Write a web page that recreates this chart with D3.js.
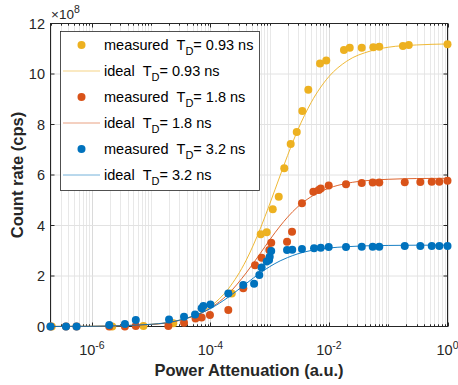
<!DOCTYPE html>
<html><head><meta charset="utf-8">
<script src="https://cdn.jsdelivr.net/npm/d3@7"></script>
<style>body{margin:0;background:#fff}svg{display:block;font-family:"Liberation Sans",Arial,sans-serif}</style>
</head><body><svg id="c" width="458" height="385"></svg>
<script>
// ---- data ----
const seriesNames = ["0.93", "1.8", "3.2"];
const seriesColors = ["#EDB120", "#D95319", "#0072BD"];
const yTicks = [0, 2, 4, 6, 8, 10, 12];
const xTickExps = [-6, -4, -2, 0];

const meas093X = [2.1e-7, 2.2e-6, 7.4e-6, 2.36e-5, 2.29e-4, 7.05e-4, 8.9e-4, 1.125e-3, 1.42e-3, 1.76e-3, 2.26e-3, 2.86e-3, 3.55e-3, 4.48e-3, 7.06e-3, 9.0e-3, 1.79e-2, 2.24e-2, 3.57e-2, 5.6e-2, 7.06e-2, 0.177, 0.222, 1.0];
const meas093Y = [0, 0, 0.02, 0.13, 1.31, 3.65, 3.73, 4.64, 5.14, 6.27, 7.23, 7.70, 8.53, 9.38, 10.42, 10.53, 10.95, 11.04, 11.04, 11.06, 11.08, 11.11, 11.15, 11.18];

const meas18X = [2e-7, 3.65e-7, 5.5e-7, 1.96e-6, 3.6e-6, 5.5e-6, 1.95e-5, 3.58e-5, 5.6e-5, 7.1e-5, 9.8e-5, 2e-4, 3.58e-4, 5.65e-4, 7.3e-4, 9.84e-4, 1.06e-3, 1.96e-3, 2.38e-3, 3.5e-3, 5.45e-3, 6.72e-3, 7.27e-3, 9.9e-3, 1.94e-2, 3.57e-2, 5.47e-2, 7.06e-2, 0.19, 0.348, 0.542, 0.728, 1.0];
const meas18Y = [0, 0, 0, 0, 0, 0.02, 0.02, 0.15, 0.32, 0.36, 0.46, 0.65, 1.51, 2.43, 2.72, 3.03, 3.32, 3.36, 3.75, 4.88, 5.34, 5.41, 5.47, 5.58, 5.63, 5.68, 5.70, 5.70, 5.71, 5.72, 5.73, 5.73, 5.77];

const meas32X = [2e-7, 3.65e-7, 5.5e-7, 1.96e-6, 3.6e-6, 5.5e-6, 2e-5, 3.58e-5, 5.5e-5, 7.1e-5, 7.6e-5, 1e-4, 2e-4, 3.58e-4, 5.45e-4, 6.67e-4, 7.3e-4, 8.9e-4, 9.76e-4, 1.0e-3, 1.06e-3, 1.96e-3, 2.4e-3, 3.5e-3, 5.6e-3, 7.27e-3, 9.9e-3, 1.94e-2, 3.57e-2, 5.47e-2, 7.06e-2, 0.19, 0.348, 0.542, 0.728, 1.0];
const meas32Y = [0, 0, 0, 0.06, 0.10, 0.26, 0.28, 0.39, 0.48, 0.72, 0.81, 0.87, 1.31, 1.64, 1.69, 2.04, 2.34, 2.57, 2.63, 2.76, 2.99, 3.03, 3.04, 3.07, 3.10, 3.12, 3.15, 3.15, 3.16, 3.16, 3.16, 3.19, 3.19, 3.19, 3.19, 3.19];

const idealX = [2e-7, 1e-6, 1e-5, 3e-5, 1e-4, 2e-4, 4e-4, 7e-4, 1e-3, 1.5e-3, 2e-3, 3e-3, 5e-3, 1e-2, 2e-2, 5e-2, 0.1, 0.3, 1];
const ideal093Y = [0.002, 0.009, 0.085, 0.25, 0.79, 1.49, 2.62, 3.90, 4.85, 5.98, 6.77, 7.80, 8.87, 9.90, 10.51, 10.91, 11.06, 11.15, 11.19];
const ideal18Y = [0.002, 0.008, 0.082, 0.24, 0.73, 1.29, 2.12, 2.91, 3.43, 3.98, 4.33, 4.75, 5.14, 5.48, 5.67, 5.79, 5.83, 5.86, 5.87];
const ideal32Y = [0.002, 0.009, 0.088, 0.25, 0.71, 1.16, 1.70, 2.13, 2.37, 2.60, 2.73, 2.88, 3.01, 3.11, 3.16, 3.20, 3.21, 3.22, 3.22];

// ---- build ----
const measured = [[meas093X, meas093Y], [meas18X, meas18Y], [meas32X, meas32Y]];
const ideals = [ideal093Y, ideal18Y, ideal32Y];
const svg = d3.select("#c");
const L = 50.5, R = 447.5, T = 23.5, B = 326.5;
const x = d3.scaleLog().domain([2e-7, 1]).range([L, R]);
const y = d3.scaleLinear().domain([0, 12]).range([B, T]);
const axisCol = "#262626";

// grid
const minor = [];
for (let e = -7; e <= 0; e++) for (let k = 1; k <= 9; k++) { const v = k * Math.pow(10, e); if (v >= 2e-7 && v <= 1) minor.push(v); }
const gGrid = svg.append("g");
gGrid.selectAll(".mg").data(minor).enter().append("line")
  .attr("x1", d => Math.round(x(d)) + 0.5).attr("x2", d => Math.round(x(d)) + 0.5).attr("y1", T).attr("y2", B)
  .attr("stroke", d => xTickExps.some(e => Math.abs(Math.log10(d) - e) < 1e-6) ? "#dadada" : "#e8e8e8").attr("stroke-width", 1);
gGrid.selectAll(".hg").data(yTicks).enter().append("line")
  .attr("x1", L).attr("x2", R).attr("y1", d => y(d)).attr("y2", d => y(d))
  .attr("stroke", "#e2e2e2");

// axes ticks (inward, box)
const gAx = svg.append("g").attr("stroke", axisCol).attr("stroke-width", 1);
const majorX = xTickExps.map(e => Math.pow(10, e));
minor.forEach(v => {
  const isMaj = majorX.some(m => Math.abs(Math.log10(v) - Math.log10(m)) < 1e-6);
  const len = isMaj ? 4 : 2.2;
  const px = Math.round(x(v)) + 0.5;
  gAx.append("line").attr("x1", px).attr("x2", px).attr("y1", B).attr("y2", B - len);
  gAx.append("line").attr("x1", px).attr("x2", px).attr("y1", T).attr("y2", T + len);
});
yTicks.forEach(v => {
  gAx.append("line").attr("x1", L).attr("x2", L + 4).attr("y1", y(v)).attr("y2", y(v));
  gAx.append("line").attr("x1", R).attr("x2", R - 4).attr("y1", y(v)).attr("y2", y(v));
});
gAx.append("rect").attr("x", L).attr("y", T).attr("width", R - L).attr("height", B - T).attr("fill", "none");

// tick labels
svg.append("g").selectAll("text").data(yTicks).enter().append("text")
  .attr("x", 45).attr("y", d => y(d) + 5).attr("text-anchor", "end")
  .attr("font-size", 14.5).attr("fill", axisCol).text(d => d);
const xl = svg.append("g");
xTickExps.forEach(e => {
  const t = xl.append("text").attr("x", x(Math.pow(10, e))).attr("y", 355).attr("text-anchor", "middle")
    .attr("font-size", 14.5).attr("fill", axisCol);
  t.append("tspan").text("10");
  t.append("tspan").attr("dy", -6).attr("font-size", 10.5).text(e === 0 ? "0" : "-" + Math.abs(e));
});
const ex = svg.append("text").attr("x", 51).attr("y", 19).attr("font-size", 13.5).attr("fill", axisCol);
ex.append("tspan").text("\u00D710");
ex.append("tspan").attr("dy", -6).attr("font-size", 10.5).text("8");

// axis titles
svg.append("text").attr("x", (L + R) / 2).attr("y", 376).attr("text-anchor", "middle")
  .attr("font-size", 16.5).attr("font-weight", "bold").attr("fill", axisCol).text("Power Attenuation (a.u.)");
svg.append("text").attr("transform", `translate(23,${(T + B) / 2}) rotate(-90)`).attr("text-anchor", "middle")
  .attr("font-size", 16.5).attr("font-weight", "bold").attr("fill", axisCol).text("Count rate (cps)");

// data
const plot = svg.append("g");
const line = d3.line().x(d => x(d[0])).y(d => y(d[1])).curve(d3.curveMonotoneX);
measured.forEach((m, i) => {
  const pts = m[0].map((v, j) => [v, m[1][j]]);
  plot.append("g").selectAll("circle").data(pts).enter().append("circle")
    .attr("cx", d => x(d[0])).attr("cy", d => y(d[1])).attr("r", 4).attr("fill", seriesColors[i]);
  plot.append("path").datum(idealX.map((v, j) => [v, ideals[i][j]])).attr("d", line)
    .attr("fill", "none").attr("stroke", seriesColors[i]).attr("stroke-width", 0.9);
});

// legend
const lg = svg.append("g");
lg.append("rect").attr("x", 60.5).attr("y", 31.5).attr("width", 199).attr("height", 159)
  .attr("fill", "#fff").attr("stroke", axisCol).attr("stroke-width", 0.8);
const rows = [];
seriesNames.forEach((n, i) => { rows.push({ kind: "m", name: n, c: seriesColors[i] }); rows.push({ kind: "l", name: n, c: seriesColors[i] }); });
rows.forEach((r, i) => {
  const cy = 45 + i * 26;
  if (r.kind === "m") lg.append("circle").attr("cx", 81.5).attr("cy", cy).attr("r", 4).attr("fill", r.c);
  else lg.append("line").attr("x1", 63).attr("x2", 100).attr("y1", cy).attr("y2", cy).attr("stroke", r.c).attr("stroke-width", 0.9).attr("opacity", 0.6);
  const t = lg.append("text").attr("x", 104).attr("y", cy + 5).attr("font-size", 14.5).attr("fill", "#000");
  t.append("tspan").text((r.kind === "m" ? "measured" : "ideal") + "\u00A0\u00A0T");
  t.append("tspan").attr("dy", 5).attr("font-size", 11).text("D");
  t.append("tspan").attr("dy", -5).text("= " + r.name + " ns");
});
</script></body></html>
